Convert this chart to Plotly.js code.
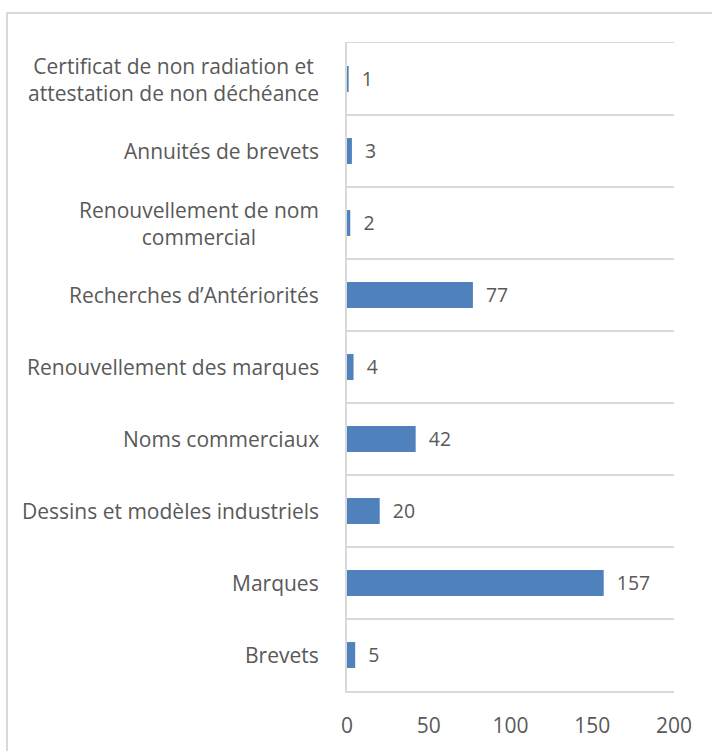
<!DOCTYPE html>
<html>
<head>
<meta charset="utf-8">
<script src="https://cdn.plot.ly/plotly-3.0.1.min.js"></script>
<style>
  html, body { margin: 0; padding: 0; background: #fff; overflow: hidden; }
  #frame { position: absolute; left: 6px; top: 12px; width: 800px; height: 800px;
           border-left: 2px solid #d9d9d9; border-top: 2px solid #d9d9d9; pointer-events: none; z-index: 2; }
  #chart { position: absolute; left: 0; top: 0; width: 712px; height: 751px; }
</style>
</head>
<body>
<div id="chart"></div>
<div id="frame"></div>
<script>
const categories = [
  "Brevets",
  "Marques",
  "Dessins et modèles industriels",
  "Noms commerciaux",
  "Renouvellement des marques",
  "Recherches d’Antériorités",
  "Renouvellement de nom commercial",
  "Annuités de brevets",
  "Certificat de non radiation et attestation de non déchéance"
];
const labelText = [
  "Brevets",
  "Marques",
  "Dessins et modèles industriels",
  "Noms commerciaux",
  "Renouvellement des marques",
  "Recherches d’Antériorités",
  "Renouvellement de nom<br>commercial",
  "Annuités de brevets",
  "Certificat de non radiation et<br>attestation de non déchéance"
];
const values = [5, 157, 20, 42, 4, 77, 2, 3, 1];
const xTicks = [0, 50, 100, 150, 200];

const FONT = "'Open Sans', Lato, sans-serif";
const GREY = "#595959";
const FS = 21;

const trace = {
  type: "bar",
  orientation: "h",
  y: categories,
  x: values,
  width: 0.36,
  marker: { color: "#4F81BD" },
  text: values,
  texttemplate: "\u00a0\u00a0%{x}",
  textposition: "outside",
  cliponaxis: false,
  textfont: { family: FONT, size: FS, color: GREY },
  hoverinfo: "x+y"
};

const annotations = categories.map((c, i) => ({
  xref: "paper", yref: "y",
  x: 0, y: c,
  xanchor: "right", yanchor: "middle",
  xshift: -26,
  align: "center",
  showarrow: false,
  text: labelText[i],
  font: { family: FONT, size: FS, color: GREY }
}));

const layout = {
  width: 712, height: 751,
  margin: { l: 347, r: 38, t: 43, b: 60 },
  paper_bgcolor: "#fff", plot_bgcolor: "#fff",
  showlegend: false,
  bargap: 0.64,
  font: { family: FONT },
  xaxis: {
    range: [0, 200],
    tickvals: xTicks,
    ticktext: xTicks.map(String),
    showgrid: false, zeroline: false,
    showline: true, mirror: true, linecolor: "#d9d9d9", linewidth: 1.5,
    ticks: "",
    ticklabelstandoff: 15,
    tickfont: { family: FONT, size: FS, color: GREY },
    fixedrange: true
  },
  yaxis: {
    type: "category",
    categoryorder: "array",
    categoryarray: categories,
    range: [-0.5, 8.5],
    tickson: "boundaries",
    showgrid: true, gridcolor: "#d9d9d9", gridwidth: 1.5,
    showline: true, linecolor: "#d9d9d9", linewidth: 2,
    zeroline: false,
    ticks: "",
    showticklabels: false,
    fixedrange: true
  },
  annotations: annotations
};

Plotly.newPlot("chart", [trace], layout, { displayModeBar: false, staticPlot: true });
</script>
</body>
</html>
